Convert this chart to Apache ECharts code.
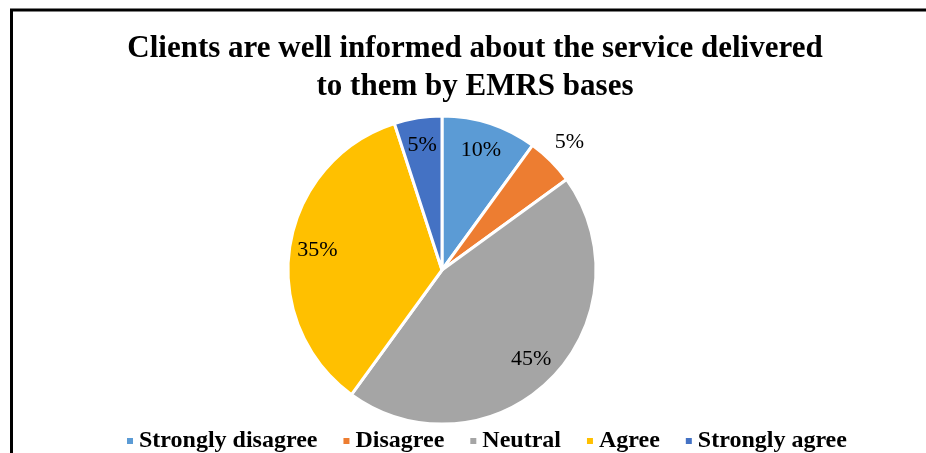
<!DOCTYPE html>
<html>
<head>
<meta charset="utf-8">
<script src="https://cdn.jsdelivr.net/npm/echarts@6/dist/echarts.min.js"></script>
<style>
  html, body { margin: 0; padding: 0; background: #fff; }
  #chart { width: 926px; height: 453px; }
</style>
</head>
<body>
<div id="chart"></div>
<script>
// Survey responses: "Clients are well informed about the service delivered to them by EMRS bases"
const categories = ['Strongly disagree', 'Disagree', 'Neutral', 'Agree', 'Strongly agree'];
const shares = [10, 5, 45, 35, 5];
const colors = ['#5B9BD5', '#ED7D31', '#A5A5A5', '#FFC000', '#4472C4'];
// slices whose percentage sits just outside the rim
const outsideLabels = ['Disagree'];

const serif = '"Liberation Serif", "Times New Roman", serif';
const R = 154;
const CENTER = [442, 270];

const sliceData = categories.map((name, i) => ({
  name,
  value: shares[i],
  itemStyle: { color: colors[i] }
}));

// transparent twin pies: an "inside" label sits at half the outer radius,
// so a wider twin pushes the percentages out towards (or past) the rim
function labelPie(id, radiusFactor, showFn) {
  return {
    id,
    type: 'pie',
    center: CENTER,
    radius: [0, R * radiusFactor],
    startAngle: 90,
    clockwise: true,
    silent: true,
    data: categories.map((name, i) => ({
      name,
      value: shares[i],
      label: { show: showFn(name) }
    })),
    itemStyle: { color: 'rgba(0,0,0,0)', borderWidth: 0 },
    label: {
      position: 'inside',
      formatter: '{c}%',
      fontFamily: serif,
      fontSize: 22,
      color: '#000'
    },
    labelLine: { show: false },
    emphasis: { disabled: true },
    z: 3
  };
}

const chart = echarts.init(document.getElementById('chart'), null, { renderer: 'canvas' });
chart.setOption({
  backgroundColor: '#ffffff',
  animation: false,
  title: {
    text: 'Clients are well informed about the service delivered\nto them by EMRS bases',
    left: 470,
    top: 25,
    textAlign: 'center',
    textStyle: {
      fontFamily: serif,
      fontWeight: 'bold',
      fontSize: 31,
      lineHeight: 38,
      color: '#000'
    }
  },
  legend: {
    data: categories,
    left: 120,
    top: 424,
    icon: 'rect',
    itemWidth: 8,
    itemHeight: 8,
    itemGap: 24,
    textStyle: {
      fontFamily: serif,
      fontWeight: 'bold',
      fontSize: 24,
      color: '#000'
    }
  },
  graphic: [{
    type: 'rect',
    shape: { x: 11.5, y: 10, width: 1000, height: 1000 },
    style: { fill: 'none', stroke: '#000', lineWidth: 3 },
    silent: true
  }],
  series: [
    {
      id: 'slices',
      name: 'Responses',
      type: 'pie',
      center: CENTER,
      radius: [0, R],
      startAngle: 90,
      clockwise: true,
      data: sliceData,
      itemStyle: { borderColor: '#fff', borderWidth: 3 },
      label: { show: false },
      labelLine: { show: false },
      emphasis: { disabled: true }
    },
    labelPie('innerLabels', 1.6, name => !outsideLabels.includes(name)),
    labelPie('outerLabels', 2.3, name => outsideLabels.includes(name))
  ]
});
</script>
</body>
</html>
